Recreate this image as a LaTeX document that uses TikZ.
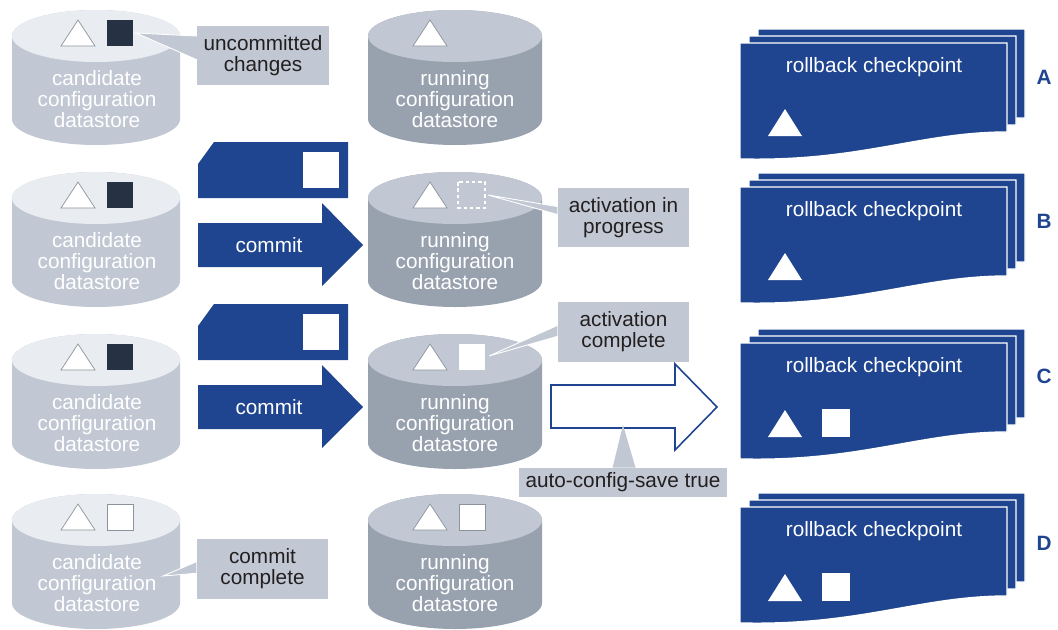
\documentclass[tikz,border=0pt]{standalone}
\usepackage{fontspec}
\setmainfont{Liberation Sans}
\usetikzlibrary{calc}
\definecolor{ckblue}{HTML}{1F4590}
\definecolor{boxgrey}{HTML}{C1C8D3}
\definecolor{topgrey}{HTML}{E9EDF1}
\definecolor{rungrey}{HTML}{98A2AF}
\definecolor{darksq}{HTML}{263143}
\definecolor{textdark}{HTML}{231F20}
\definecolor{triline}{HTML}{8C939C}
\def\datastore[#1][#2](#3,#4)(#5){\fill[#1] (#3-#5,#4) -- (#3-#5,#4+83) arc (180:0:#5 and 26) -- (#3+#5,#4) arc (0:-180:#5 and 26) -- cycle; \fill[#2] (#3,#4) ellipse (#5 and 26);}
\def\tri(#1,#2){\draw[tri] (#1,#2) -- ++(34,0) -- ++(-17,-26) -- cycle;}
\def\sheet(#1,#2){\filldraw[sheet] (#1,#2) -- ++(267,0) -- ++(0,89) .. controls +(-87,0) and +(120,3) .. (#1,#2+116) -- cycle;}
\def\stack(#1,#2){\sheet(#1+18,#2-14)\sheet(#1+9,#2-7)\sheet(#1,#2)}
\def\commitarrow(#1){\fill[ckblue] (198,#1-22) -- (322,#1-22) -- (322,#1-42) -- (363,#1) -- (322,#1+41) -- (322,#1+22) -- (198,#1+22) -- cycle;}
\def\card(#1){\fill[ckblue] (214,#1) -- (348,#1) -- (348,#1+56) -- (198,#1+56) -- (198,#1+22) -- cycle; \fill[white] (303,#1+10) rectangle (339,#1+46);}

\begin{document}
\begin{tikzpicture}[x=0.02cm, y=-0.02cm, font=\fontsize{11.8}{11.9}\selectfont,
  dstext/.style={text=white, align=center, inner sep=0pt},
  callout/.style={fill=boxgrey, text=textdark, align=center, inner sep=0pt, minimum width=2.63cm, minimum height=1.2cm},
  wedgeline/.style={white, line width=0.5pt},
  tri/.style={fill=white, draw=triline, line width=0.4pt},
  sheet/.style={fill=ckblue, draw=white, line width=0.8pt},
  letter/.style={text=ckblue, font=\fontsize{11.8}{11.9}\selectfont\bfseries}]
			%%%%% START %%%%%
			\useasboundingbox (0,0) rectangle (1058,629);
			
			% candidate datastores
			\datastore[boxgrey][topgrey](96,36)(84)
			\datastore[boxgrey][topgrey](96,198)(84)
			\datastore[boxgrey][topgrey](96,360)(84)
			\datastore[boxgrey][topgrey](96,520)(84)
			\node[dstext] (cand1) at (97,99) {candidate\\configuration\\datastore};
			\node[dstext] (cand2) at (97,261) {candidate\\configuration\\datastore};
			\node[dstext] (cand3) at (97,423) {candidate\\configuration\\datastore};
			\node[dstext] (cand4) at (97,583) {candidate\\configuration\\datastore};
			\tri(61,46) \tri(61,208) \tri(61,370) \tri(61,530)
			\fill[darksq] (107,20) rectangle (133,46);
			\fill[darksq] (107,182) rectangle (133,208);
			\fill[darksq] (107,344) rectangle (133,370);
			\draw[tri] (107,504) rectangle (133,530);
			
			% running datastores
			\datastore[rungrey][boxgrey](455,36)(87)
			\datastore[rungrey][boxgrey](455,198)(87)
			\datastore[rungrey][boxgrey](455,360)(87)
			\datastore[rungrey][boxgrey](455,520)(87)
			\node[dstext] (run1) at (455,99) {running\\configuration\\datastore};
			\node[dstext] (run2) at (455,261) {running\\configuration\\datastore};
			\node[dstext] (run3) at (455,423) {running\\configuration\\datastore};
			\node[dstext] (run4) at (455,583) {running\\configuration\\datastore};
			\tri(413,46) \tri(413,208) \tri(413,370) \tri(413,530)
			\draw[white, line width=1pt, dash pattern=on 2pt off 1.6pt] (458,182) rectangle (485,208);
			\fill[white] (459,344) rectangle (485,370);
			\draw[tri] (459,504) rectangle (485,530);
			
			% commit steps
			\card(142)
			\commitarrow(245)
			\node[text=white] (commitB) at (269,245) {commit};
			\card(304)
			\commitarrow(407)
			\node[text=white] (commitC) at (269,407) {commit};
			
			\draw[ckblue, line width=0.9pt, fill=white] (551,385) -- (675,385) -- (675,364) -- (717,407) -- (675,450) -- (675,428) -- (551,428) -- cycle;
			
			% callouts
			\node[callout] (unc) at (263,55.5) {uncommitted\\changes};
			\node[callout] (actprog) at (623.5,217.5) {activation in\\progress};
			\node[callout] (actdone) at (623.5,331.5) {activation\\complete};
			\node[callout] (cmtdone) at (262.5,569) {commit\\complete};
			\node[callout, minimum width=4.16cm, minimum height=0.58cm] (autosave) at (623,482.5) {auto-config-save true};
			
			\coordinate (tipunc) at (136,33);
			\coordinate (tipprog) at (488,195);
			\coordinate (tipdone) at (489,356);
			\coordinate (tipcmt) at (163,576);
			\coordinate (tipauto) at (623,425);
			
			\fill[boxgrey] ($(unc.north west)!0.18!(unc.south west)$) -- (tipunc) -- ($(unc.north west)!0.57!(unc.south west)$) -- cycle;
			\draw[wedgeline] ($(unc.north west)!0.18!(unc.south west)$) -- (tipunc) -- ($(unc.north west)!0.57!(unc.south west)$);
			\fill[boxgrey] ($(actprog.north west)!0.32!(actprog.south west)$) -- (tipprog) -- ($(actprog.north west)!0.45!(actprog.south west)$) -- cycle;
			\draw[wedgeline] ($(actprog.north west)!0.32!(actprog.south west)$) -- (tipprog) -- ($(actprog.north west)!0.45!(actprog.south west)$);
			\fill[boxgrey] ($(actdone.north west)!0.4!(actdone.south west)$) -- (tipdone) -- ($(actdone.north west)!0.58!(actdone.south west)$) -- cycle;
			\draw[wedgeline] ($(actdone.north west)!0.4!(actdone.south west)$) -- (tipdone) -- ($(actdone.north west)!0.58!(actdone.south west)$);
			\fill[boxgrey] ($(cmtdone.north west)!0.38!(cmtdone.south west)$) -- (tipcmt) -- ($(cmtdone.north west)!0.57!(cmtdone.south west)$) -- cycle;
			\draw[wedgeline] ($(cmtdone.north west)!0.38!(cmtdone.south west)$) -- (tipcmt) -- ($(cmtdone.north west)!0.57!(cmtdone.south west)$);
			\fill[boxgrey] ($(autosave.north west)!0.45!(autosave.north east)$) -- (tipauto) -- ($(autosave.north west)!0.56!(autosave.north east)$) -- cycle;
			
			% rollback checkpoints
			\stack(740,43)
			\stack(740,187)
			\stack(740,343)
			\stack(740,507)
			\node[dstext] (ckA) at (874,67) {rollback checkpoint};
			\node[dstext] (ckB) at (874,211) {rollback checkpoint};
			\node[dstext] (ckC) at (874,367) {rollback checkpoint};
			\node[dstext] (ckD) at (874,531) {rollback checkpoint};
			\fill[white] (768,136) -- ++(34,0) -- ++(-17,-27) -- cycle;
			\fill[white] (768,280) -- ++(34,0) -- ++(-17,-27) -- cycle;
			\fill[white] (768,437) -- ++(34,0) -- ++(-17,-27) -- cycle;
			\fill[white] (822,409) rectangle (850,437);
			\fill[white] (768,601) -- ++(34,0) -- ++(-17,-27) -- cycle;
			\fill[white] (822,573) rectangle (850,601);
			
			\node[letter] (labA) at (1044,77) {A};
			\node[letter] (labB) at (1044,221) {B};
			\node[letter] (labC) at (1044,376) {C};
			\node[letter] (labD) at (1044,543) {D};
			%%%%% END %%%%%
\end{tikzpicture}
\end{document}
